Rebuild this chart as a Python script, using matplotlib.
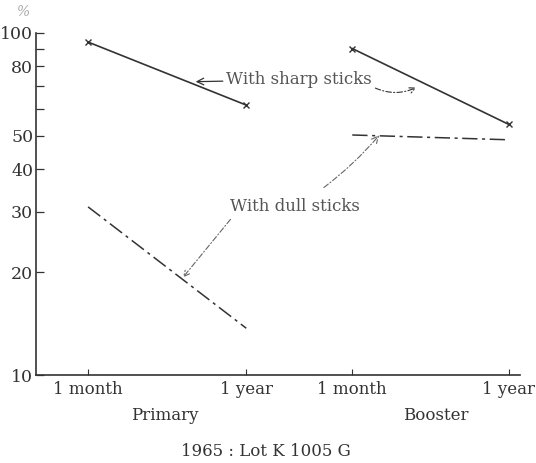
import numpy as np
import matplotlib
matplotlib.use('Agg')
import matplotlib.pyplot as plt
from matplotlib.ticker import FixedLocator, NullFormatter

plt.rcParams['font.family'] = ['DejaVu Serif']

# x positions of the four sampling points (primary: 1 month, 1 year; booster: 1 month, 1 year)
x_pos = [0, 1, 1.67, 2.66]
x_labels = ['1 month', '1 year', '1 month', '1 year']

# percentages
sharp_primary = [94, 61.5]
sharp_booster = [90, 54]
dull_primary = [31, 13.7]
dull_booster = [50.3, 48.7]

ink = '#333333'
soft = '#555555'

fig = plt.figure(figsize=(5.36, 4.63), dpi=100)
ax = fig.add_axes([0.067, 0.19, 0.903, 0.739])

ax.plot(x_pos[0:2], sharp_primary, color=ink, lw=1.2, marker='x', ms=4, mew=1)
ax.plot(x_pos[2:4], sharp_booster, color=ink, lw=1.2, marker='x', ms=4, mew=1)
ax.plot(x_pos[0:2], dull_primary, color=ink, lw=1.1, ls=(0, (10, 3, 2, 3)))
ax.plot(x_pos[2:4], dull_booster, color=ink, lw=1.1, ls=(0, (10, 3, 2, 3)))

ax.set_yscale('log')
ax.set_ylim(10, 100)
ax.set_xlim(-0.33, 2.73)
ax.yaxis.set_major_locator(FixedLocator([10, 20, 30, 40, 50, 80, 100]))
ax.yaxis.set_minor_locator(FixedLocator([60, 70, 90]))
ax.yaxis.set_minor_formatter(NullFormatter())
ax.set_yticklabels(['10', '20', '30', '40', '50', '80', '100'])
ax.set_xticks(x_pos)
ax.set_xticklabels(x_labels)
ax.tick_params(axis='both', which='both', direction='in', colors=ink)
ax.tick_params(axis='y', which='both', length=6, width=0.9, pad=2, labelsize=12.5)
ax.tick_params(axis='x', length=4, width=0.8, labelsize=12, pad=4)
for s in ['top', 'right']:
    ax.spines[s].set_visible(False)
for s in ['left', 'bottom']:
    ax.spines[s].set_color(ink)
    ax.spines[s].set_linewidth(1.2)

# annotations
ax.annotate('With sharp sticks', xy=(0.68, 72), xytext=(1.33, 73),
            ha='center', va='center', fontsize=12, color=soft,
            arrowprops=dict(arrowstyle='->', color=ink, lw=0.9, shrinkA=50, shrinkB=0))
ax.annotate('', xy=(2.09, 69.8), xytext=(1.80, 69.5),
            arrowprops=dict(arrowstyle='->', color=ink, lw=0.8, ls=(0, (5, 2, 1, 2)),
                            connectionstyle='arc3,rad=0.25'))
ax.annotate('With dull sticks', xy=(1.84, 50.2), xytext=(1.31, 31),
            ha='center', va='center', fontsize=12, color=soft,
            arrowprops=dict(arrowstyle='->', color='#666666', lw=0.8, ls=(0, (5, 2, 1, 2)),
                            shrinkA=10, shrinkB=0, connectionstyle='arc3,rad=0.08'))
ax.annotate('', xy=(0.6, 19.3), xytext=(0.9, 28.5),
            arrowprops=dict(arrowstyle='->', color='#666666', lw=0.8, ls=(0, (5, 2, 1, 2)),
                            shrinkA=0, shrinkB=0))

fig.text(24 / 536, 1 - 12 / 463, '%', fontsize=10, color='#aaaaaa', ha='center', va='center', style='italic')
fig.text(165 / 536, 1 - 416 / 463, 'Primary', fontsize=12, color=ink, ha='center', va='center')
fig.text(436 / 536, 1 - 416 / 463, 'Booster', fontsize=12, color=ink, ha='center', va='center')
fig.text(266 / 536, 1 - 451 / 463, '1965 : Lot K 1005 G', fontsize=12, color=ink, ha='center', va='center')

fig.savefig('out.png', dpi=100)
